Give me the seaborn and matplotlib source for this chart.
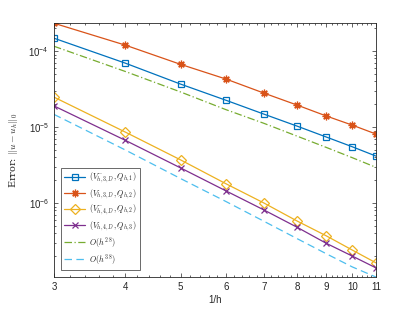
import numpy as np
import pandas as pd
import matplotlib
matplotlib.use("Agg")
import matplotlib.pyplot as plt
import matplotlib.ticker as mticker
import seaborn as sns

# ---- data ----
inv_h = [3, 4, 5, 6, 7, 8, 9, 10, 11]
err_v3m_q1 = [1.48e-4, 6.95e-5, 3.68e-5, 2.26e-5, 1.48e-5, 1.03e-5, 7.4e-6, 5.5e-6, 4.15e-6]
err_v3_q2 = [2.33e-4, 1.20e-4, 6.7e-5, 4.3e-5, 2.8e-5, 1.95e-5, 1.4e-5, 1.06e-5, 8.1e-6]
err_v4m_q2 = [2.48e-5, 8.6e-6, 3.7e-6, 1.8e-6, 1.0e-6, 5.8e-7, 3.7e-7, 2.4e-7, 1.63e-7]
err_v4_q3 = [1.9e-5, 6.7e-6, 2.9e-6, 1.45e-6, 8.1e-7, 4.8e-7, 2.95e-7, 2.0e-7, 1.4e-7]
ref_28 = [1.16e-4, 5.4e-5, 2.9e-5, 1.7e-5, 1.12e-5, 7.6e-6, 5.4e-6, 3.95e-6, 2.95e-6]
ref_38 = [1.47e-5, 5.0e-6, 2.1e-6, 1.05e-6, 5.75e-7, 3.4e-7, 2.15e-7, 1.44e-7, 1.06e-7]

labels = [r"$(V^{-}_{h,3,D},Q_{h,1})$", r"$(V_{h,3,D},Q_{h,2})$",
          r"$(V^{-}_{h,4,D},Q_{h,2})$", r"$(V_{h,4,D},Q_{h,3})$",
          r"$O(h^{2.8})$", r"$O(h^{3.8})$"]
series = [err_v3m_q1, err_v3_q2, err_v4m_q2, err_v4_q3, ref_28, ref_38]

colors = ["#0072BD", "#D95319", "#EDB120", "#7E2F8E", "#77AC30", "#4DBEEE"]
markers = ["s", (8, 2, 0), "D", "x", None, None]
msizes = [5, 5.5, 5, 5, 0, 0]
dashes = ["-", "-", "-", "-", (0, (6, 2, 1, 2)), (0, (6, 3.5))]

sns.set_style("ticks")
plt.rcParams["font.family"] = ["Liberation Sans", "DejaVu Sans"]
plt.rcParams["mathtext.fontset"] = "cm"

fig = plt.figure(figsize=(4.15, 3.12), dpi=100)
ax = fig.add_axes([0.130, 0.112, 0.776, 0.814])

for lab, vals, c, m, ms, ls in zip(labels, series, colors, markers, msizes, dashes):
    df = pd.DataFrame({"x": inv_h, "y": vals})
    sns.lineplot(data=df, x="x", y="y", ax=ax, color=c, marker=m,
                 markersize=ms, markerfacecolor="none" if m in ("s", "D") else c,
                 markeredgecolor=c, markeredgewidth=0.9, linewidth=0.9,
                 linestyle=ls, label=lab)

ax.set_xscale("log")
ax.set_yscale("log")
ax.set_xlim(3, 11)
ax.set_ylim(1.06e-7, 2.34e-4)

ax.xaxis.set_major_locator(mticker.FixedLocator(inv_h))
ax.xaxis.set_major_formatter(mticker.FixedFormatter([str(v) for v in inv_h]))
minor_x = [v for v in np.arange(3.2, 11, 0.2) if abs(v - round(v)) > 1e-6]
ax.xaxis.set_minor_locator(mticker.FixedLocator(minor_x))
ax.xaxis.set_minor_formatter(mticker.NullFormatter())

ax.yaxis.set_major_locator(mticker.LogLocator(base=10, numticks=10))
ax.yaxis.set_minor_locator(mticker.LogLocator(base=10, subs=np.arange(2, 10), numticks=20))
ax.yaxis.set_minor_formatter(mticker.NullFormatter())

ax.tick_params(which="both", direction="in", top=True, right=True,
               labelsize=7, colors="#262626", width=0.5)
ax.tick_params(which="major", length=3)
ax.tick_params(which="minor", length=1.6)
for s in ax.spines.values():
    s.set_linewidth(0.6)
    s.set_color("#262626")

ax.set_xlabel("1/h", fontsize=7, labelpad=2)
ax.set_ylabel(r"Error: $\|u-u_h\|_0$", fontsize=7, family="DejaVu Serif", labelpad=6)

leg = ax.legend(loc="lower left", fontsize=5.8, frameon=True, fancybox=False,
                edgecolor="#262626", handlelength=2.6, borderaxespad=0.9,
                labelspacing=0.25, handletextpad=0.5, borderpad=0.4)
leg.get_frame().set_linewidth(0.6)

fig.savefig("out.png", dpi=100)
